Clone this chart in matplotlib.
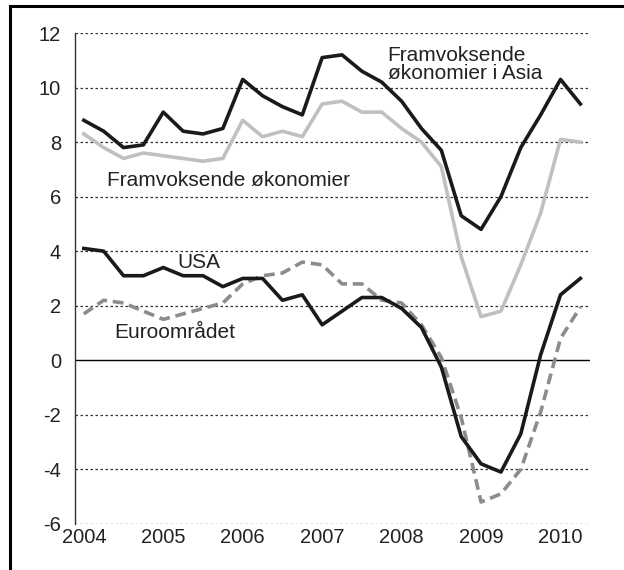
import matplotlib.pyplot as plt
from matplotlib.lines import Line2D

plt.rcParams["font.family"] = ["Liberation Sans", "DejaVu Sans"]
plt.rcParams["axes.unicode_minus"] = False

# quarterly growth, 2004Q1 - 2010Q2
quarters = list(range(26))
asia = [8.8, 8.4, 7.8, 7.9, 9.1, 8.4, 8.3, 8.5, 10.3, 9.7, 9.3, 9.0, 11.1,
        11.2, 10.6, 10.2, 9.5, 8.5, 7.7, 5.3, 4.8, 6.0, 7.8, 9.0, 10.3, 9.4]
emerging = [8.3, 7.8, 7.4, 7.6, 7.5, 7.4, 7.3, 7.4, 8.8, 8.2, 8.4, 8.2, 9.4,
            9.5, 9.1, 9.1, 8.5, 8.0, 7.1, 3.8, 1.6, 1.8, 3.5, 5.4, 8.1, 8.0]
usa = [4.1, 4.0, 3.1, 3.1, 3.4, 3.1, 3.1, 2.7, 3.0, 3.0, 2.2, 2.4, 1.3,
       1.8, 2.3, 2.3, 1.9, 1.2, -0.25, -2.8, -3.8, -4.1, -2.7, 0.2, 2.4, 3.0]
euro = [1.7, 2.2, 2.1, 1.8, 1.5, 1.7, 1.9, 2.1, 2.8, 3.1, 3.2, 3.6, 3.5,
        2.8, 2.8, 2.2, 2.1, 1.3, 0.1, -2.1, -5.2, -4.9, -4.0, -1.9, 0.8, 1.95]
year_labels = ["2004", "2005", "2006", "2007", "2008", "2009", "2010"]
year_pos = [0, 4, 8, 12, 16, 20, 24]

fig = plt.figure(figsize=(6.24, 5.70), dpi=100)
ax = fig.add_axes([0.120, 0.081, 0.826, 0.861])

for y in [-6, -4, -2, 2, 4, 6, 8, 10, 12]:
    ax.axhline(y, color="#333333", lw=0.9, ls=(0, (2, 2)), zorder=1)
ax.axhline(0, color="black", lw=1.0, zorder=1)

ax.plot(quarters, emerging, color="#c0c0c0", lw=2.6, zorder=3)
ax.plot(quarters, euro, color="#8c8c8c", lw=2.6, ls=(0, (3, 1.6)), zorder=3)
ax.plot(quarters, usa, color="#1a1a1a", lw=2.6, zorder=4)
ax.plot(quarters, asia, color="#1a1a1a", lw=2.6, zorder=4)

ax.text(15.3, 10.85, "Framvoksende\nøkonomier i Asia", fontsize=15,
        color="#222222", ha="left", va="center", linespacing=0.95)
ax.text(1.15, 6.6, "Framvoksende økonomier", fontsize=15,
        color="#222222", ha="left", va="center")
ax.text(4.7, 3.6, "USA", fontsize=15, color="#222222", ha="left", va="center")
ax.text(1.55, 1.0, "Euroområdet", fontsize=15, color="#222222",
        ha="left", va="center")

ax.set_xlim(-0.45, 25.5)
ax.set_ylim(-6, 12)
ax.set_yticks(range(-6, 13, 2))
ax.set_xticks(year_pos)
ax.set_xticklabels(year_labels)
ax.tick_params(axis="both", length=0, labelsize=14.5, colors="#222222")
ax.tick_params(axis="y", pad=10)
ax.tick_params(axis="x", pad=3)

for side in ["top", "right", "bottom"]:
    ax.spines[side].set_visible(False)
ax.spines["left"].set_color("#333333")
ax.spines["left"].set_linewidth(1.0)

# partial frame around the figure
fig.add_artist(Line2D([10 / 624, 1.0], [1 - 6 / 570, 1 - 6 / 570],
                      color="black", lw=2.2, transform=fig.transFigure))
fig.add_artist(Line2D([10 / 624, 10 / 624], [0.0, 1 - 6 / 570],
                      color="black", lw=2.2, transform=fig.transFigure))

fig.savefig("out.png", dpi=100)
